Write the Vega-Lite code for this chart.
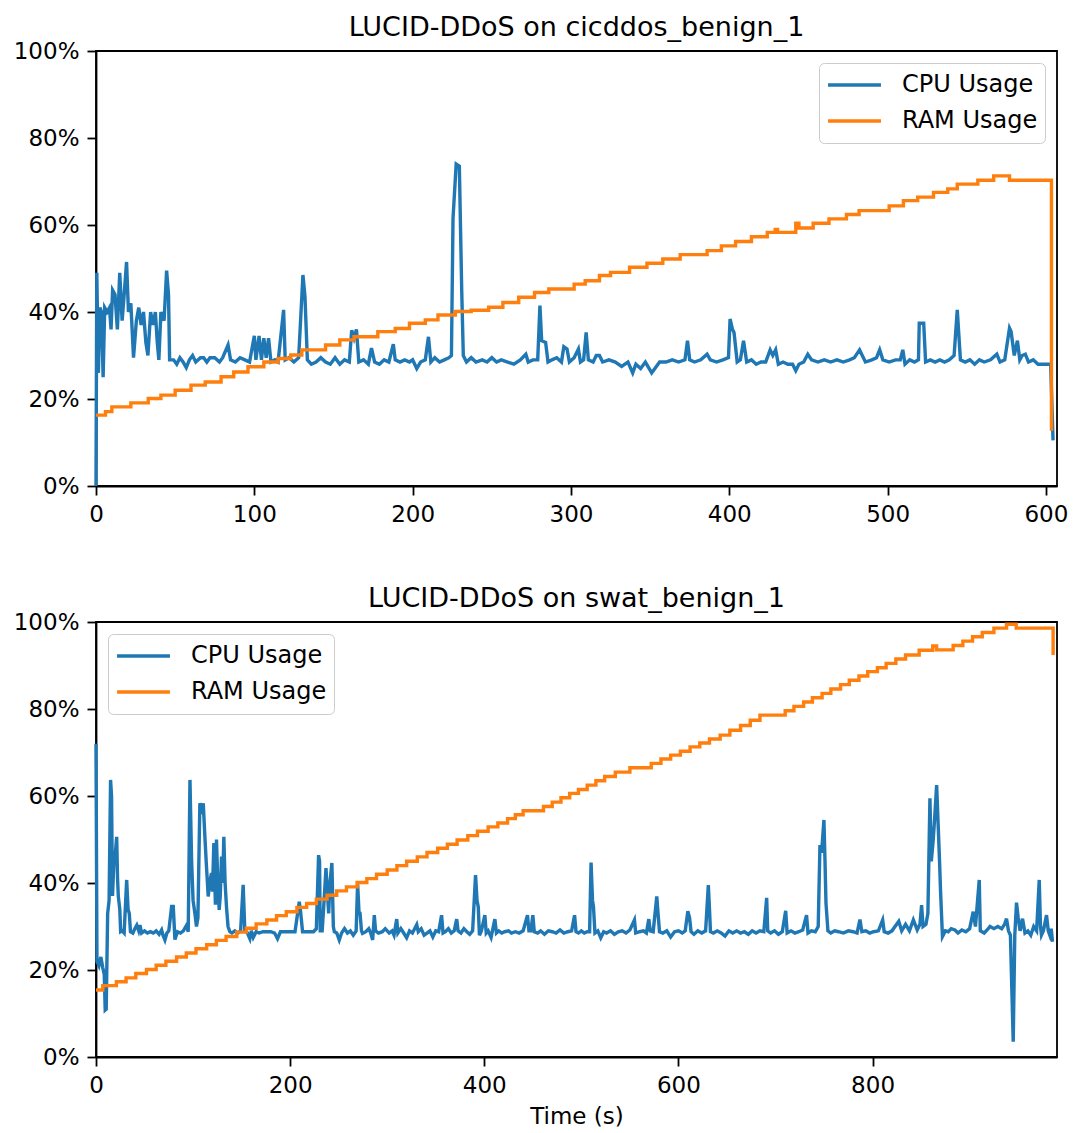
{
"$schema":"https://vega.github.io/schema/vega-lite/v6.json",
"padding":{"left":12,"top":13,"right":5,"bottom":3},
"config":{
"font":"DejaVu Sans",
"view":{"stroke":"black","strokeWidth":1.8},
"axis":{"grid":false,"domainColor":"black","domainWidth":1.8,"tickColor":"black","tickWidth":1.8,"tickSize":9,"labelPadding":8,"labelFontSize":23,"labelColor":"black","labelFont":"DejaVu Sans","titleFont":"DejaVu Sans","titleFontSize":23,"titleFontWeight":"normal","titleColor":"black","labelFlush":false,"labelOverlap":false},
"title":{"font":"DejaVu Sans","fontSize":27,"fontWeight":"normal","color":"black","offset":-2},
"legend":{"offset":12,"symbolType":"stroke","symbolSize":2800,"symbolStrokeWidth":3.4,"clipHeight":30,"rowPadding":6,"labelFontSize":24,"labelColor":"black","labelFont":"DejaVu Sans","labelOffset":19,"padding":7,"fillColor":"rgba(255,255,255,0.85)","strokeColor":"#cccccc","cornerRadius":5}
},
"datasets":{
"top":[
{"s":"CPU Usage","t":0,"v":0},{"s":"CPU Usage","t":0.5,"v":49},{"s":"CPU Usage","t":1.5,"v":26},{"s":"CPU Usage","t":2.5,"v":41},{"s":"CPU Usage","t":3.5,"v":40},{"s":"CPU Usage","t":4.5,"v":25},{"s":"CPU Usage","t":5.5,"v":41},{"s":"CPU Usage","t":7,"v":40},{"s":"CPU Usage","t":8.5,"v":41},{"s":"CPU Usage","t":9.5,"v":36},{"s":"CPU Usage","t":10.5,"v":45},{"s":"CPU Usage","t":12,"v":44},{"s":"CPU Usage","t":13.5,"v":36},{"s":"CPU Usage","t":15,"v":49},{"s":"CPU Usage","t":16.5,"v":38},{"s":"CPU Usage","t":18,"v":45},{"s":"CPU Usage","t":19.3,"v":51.5},{"s":"CPU Usage","t":20.5,"v":40},{"s":"CPU Usage","t":22,"v":42},{"s":"CPU Usage","t":23.7,"v":29.5},{"s":"CPU Usage","t":25.5,"v":38},{"s":"CPU Usage","t":27,"v":41},{"s":"CPU Usage","t":28.5,"v":37},{"s":"CPU Usage","t":30,"v":40},{"s":"CPU Usage","t":31.5,"v":33},{"s":"CPU Usage","t":32.8,"v":30},{"s":"CPU Usage","t":34.5,"v":40},{"s":"CPU Usage","t":36,"v":37},{"s":"CPU Usage","t":37.5,"v":40},{"s":"CPU Usage","t":38.7,"v":33},{"s":"CPU Usage","t":39.7,"v":29},{"s":"CPU Usage","t":41,"v":40},{"s":"CPU Usage","t":43,"v":38},{"s":"CPU Usage","t":44.6,"v":49.5},{"s":"CPU Usage","t":45.8,"v":44},{"s":"CPU Usage","t":46.5,"v":29},{"s":"CPU Usage","t":49,"v":29},{"s":"CPU Usage","t":51,"v":28},{"s":"CPU Usage","t":53,"v":29.5},{"s":"CPU Usage","t":55,"v":28.5},{"s":"CPU Usage","t":57,"v":27.2},{"s":"CPU Usage","t":59,"v":29},{"s":"CPU Usage","t":61,"v":30},{"s":"CPU Usage","t":63,"v":28.5},{"s":"CPU Usage","t":66,"v":29.5},{"s":"CPU Usage","t":68,"v":29.5},{"s":"CPU Usage","t":70,"v":28.5},{"s":"CPU Usage","t":72,"v":29.5},{"s":"CPU Usage","t":75,"v":29.5},{"s":"CPU Usage","t":78,"v":28.5},{"s":"CPU Usage","t":80,"v":29.5},{"s":"CPU Usage","t":83.4,"v":32.4},{"s":"CPU Usage","t":85,"v":29},{"s":"CPU Usage","t":88,"v":28.5},{"s":"CPU Usage","t":91,"v":29.5},{"s":"CPU Usage","t":94,"v":29},{"s":"CPU Usage","t":97,"v":28.5},{"s":"CPU Usage","t":100,"v":34.5},{"s":"CPU Usage","t":101,"v":29},{"s":"CPU Usage","t":103,"v":34.5},{"s":"CPU Usage","t":104.5,"v":29},{"s":"CPU Usage","t":106,"v":34},{"s":"CPU Usage","t":107.5,"v":29.5},{"s":"CPU Usage","t":109,"v":34},{"s":"CPU Usage","t":110.5,"v":28.5},{"s":"CPU Usage","t":113,"v":29},{"s":"CPU Usage","t":115,"v":28.5},{"s":"CPU Usage","t":118.5,"v":40.5},{"s":"CPU Usage","t":119.5,"v":29},{"s":"CPU Usage","t":122,"v":29.5},{"s":"CPU Usage","t":125,"v":28.5},{"s":"CPU Usage","t":128,"v":29.5},{"s":"CPU Usage","t":129.5,"v":40},{"s":"CPU Usage","t":130.7,"v":48.5},{"s":"CPU Usage","t":132,"v":43.5},{"s":"CPU Usage","t":133.5,"v":29},{"s":"CPU Usage","t":136,"v":28},{"s":"CPU Usage","t":139,"v":28.5},{"s":"CPU Usage","t":142,"v":29.5},{"s":"CPU Usage","t":145,"v":28.5},{"s":"CPU Usage","t":148,"v":28},{"s":"CPU Usage","t":151,"v":29.5},{"s":"CPU Usage","t":154,"v":28},{"s":"CPU Usage","t":157,"v":29},{"s":"CPU Usage","t":160,"v":28.5},{"s":"CPU Usage","t":161.5,"v":35.8},{"s":"CPU Usage","t":163,"v":34},{"s":"CPU Usage","t":164.5,"v":36},{"s":"CPU Usage","t":166,"v":28.5},{"s":"CPU Usage","t":169,"v":29},{"s":"CPU Usage","t":172,"v":28},{"s":"CPU Usage","t":174,"v":31.7},{"s":"CPU Usage","t":176,"v":28.5},{"s":"CPU Usage","t":179,"v":28},{"s":"CPU Usage","t":182,"v":29},{"s":"CPU Usage","t":185,"v":28.5},{"s":"CPU Usage","t":187.8,"v":32.6},{"s":"CPU Usage","t":189,"v":29},{"s":"CPU Usage","t":192,"v":28.5},{"s":"CPU Usage","t":195,"v":29},{"s":"CPU Usage","t":198,"v":28.5},{"s":"CPU Usage","t":200,"v":29},{"s":"CPU Usage","t":202.6,"v":27},{"s":"CPU Usage","t":205,"v":28.5},{"s":"CPU Usage","t":208,"v":29},{"s":"CPU Usage","t":210,"v":34.3},{"s":"CPU Usage","t":211.5,"v":28.5},{"s":"CPU Usage","t":214,"v":29.5},{"s":"CPU Usage","t":217,"v":28.5},{"s":"CPU Usage","t":220,"v":29},{"s":"CPU Usage","t":223,"v":29.5},{"s":"CPU Usage","t":224.5,"v":30},{"s":"CPU Usage","t":225.5,"v":61.5},{"s":"CPU Usage","t":227.5,"v":74},{"s":"CPU Usage","t":229.5,"v":73.5},{"s":"CPU Usage","t":231,"v":45},{"s":"CPU Usage","t":232,"v":30},{"s":"CPU Usage","t":234,"v":28.5},{"s":"CPU Usage","t":237,"v":29.5},{"s":"CPU Usage","t":240,"v":28.5},{"s":"CPU Usage","t":244,"v":29},{"s":"CPU Usage","t":247,"v":28.5},{"s":"CPU Usage","t":250,"v":29.5},{"s":"CPU Usage","t":253,"v":28.5},{"s":"CPU Usage","t":256,"v":29},{"s":"CPU Usage","t":260,"v":28.5},{"s":"CPU Usage","t":264,"v":28},{"s":"CPU Usage","t":268,"v":29},{"s":"CPU Usage","t":271.5,"v":30.3},{"s":"CPU Usage","t":273,"v":28.5},{"s":"CPU Usage","t":276,"v":29},{"s":"CPU Usage","t":279,"v":29},{"s":"CPU Usage","t":280.4,"v":41.5},{"s":"CPU Usage","t":281.5,"v":33.4},{"s":"CPU Usage","t":284,"v":33},{"s":"CPU Usage","t":285.5,"v":28.5},{"s":"CPU Usage","t":288,"v":29},{"s":"CPU Usage","t":291,"v":29.5},{"s":"CPU Usage","t":294,"v":28.5},{"s":"CPU Usage","t":295.5,"v":32},{"s":"CPU Usage","t":297.5,"v":31.5},{"s":"CPU Usage","t":299,"v":28.5},{"s":"CPU Usage","t":302,"v":29.5},{"s":"CPU Usage","t":304.7,"v":31.5},{"s":"CPU Usage","t":306,"v":28.5},{"s":"CPU Usage","t":308,"v":29},{"s":"CPU Usage","t":309.6,"v":35.3},{"s":"CPU Usage","t":311,"v":29},{"s":"CPU Usage","t":314,"v":28.5},{"s":"CPU Usage","t":316,"v":30},{"s":"CPU Usage","t":318,"v":30},{"s":"CPU Usage","t":320,"v":28.5},{"s":"CPU Usage","t":324,"v":29},{"s":"CPU Usage","t":328,"v":28.5},{"s":"CPU Usage","t":332,"v":27.5},{"s":"CPU Usage","t":336,"v":28.5},{"s":"CPU Usage","t":339,"v":26},{"s":"CPU Usage","t":341,"v":28},{"s":"CPU Usage","t":344,"v":27},{"s":"CPU Usage","t":347,"v":28.5},{"s":"CPU Usage","t":351,"v":26},{"s":"CPU Usage","t":353,"v":27},{"s":"CPU Usage","t":356,"v":28.5},{"s":"CPU Usage","t":360,"v":28.5},{"s":"CPU Usage","t":364,"v":29},{"s":"CPU Usage","t":368,"v":28.5},{"s":"CPU Usage","t":372,"v":29},{"s":"CPU Usage","t":373.6,"v":33.4},{"s":"CPU Usage","t":375,"v":29},{"s":"CPU Usage","t":378,"v":28.5},{"s":"CPU Usage","t":382,"v":29},{"s":"CPU Usage","t":386,"v":30.3},{"s":"CPU Usage","t":388,"v":29},{"s":"CPU Usage","t":392,"v":28.5},{"s":"CPU Usage","t":396,"v":29},{"s":"CPU Usage","t":399.5,"v":29.5},{"s":"CPU Usage","t":400.5,"v":38.4},{"s":"CPU Usage","t":402,"v":36},{"s":"CPU Usage","t":403,"v":35.3},{"s":"CPU Usage","t":405,"v":28.5},{"s":"CPU Usage","t":407,"v":29},{"s":"CPU Usage","t":409,"v":33.4},{"s":"CPU Usage","t":411,"v":28.5},{"s":"CPU Usage","t":414,"v":29},{"s":"CPU Usage","t":417,"v":28},{"s":"CPU Usage","t":420,"v":28.5},{"s":"CPU Usage","t":423,"v":28.5},{"s":"CPU Usage","t":425.8,"v":31.3},{"s":"CPU Usage","t":427.5,"v":30},{"s":"CPU Usage","t":429.3,"v":31.3},{"s":"CPU Usage","t":431,"v":28},{"s":"CPU Usage","t":434,"v":28.5},{"s":"CPU Usage","t":437,"v":28},{"s":"CPU Usage","t":440,"v":28},{"s":"CPU Usage","t":442,"v":26.5},{"s":"CPU Usage","t":444,"v":28},{"s":"CPU Usage","t":447,"v":28.5},{"s":"CPU Usage","t":449.6,"v":30.3},{"s":"CPU Usage","t":452,"v":29},{"s":"CPU Usage","t":456,"v":28.5},{"s":"CPU Usage","t":460,"v":29},{"s":"CPU Usage","t":464,"v":28.5},{"s":"CPU Usage","t":468,"v":29},{"s":"CPU Usage","t":472,"v":28.5},{"s":"CPU Usage","t":476,"v":29},{"s":"CPU Usage","t":479,"v":29.5},{"s":"CPU Usage","t":482.3,"v":31.3},{"s":"CPU Usage","t":484,"v":30},{"s":"CPU Usage","t":486,"v":28.5},{"s":"CPU Usage","t":490,"v":29},{"s":"CPU Usage","t":493,"v":29.5},{"s":"CPU Usage","t":495,"v":31.3},{"s":"CPU Usage","t":497,"v":29},{"s":"CPU Usage","t":501,"v":28.5},{"s":"CPU Usage","t":505,"v":29},{"s":"CPU Usage","t":508,"v":29},{"s":"CPU Usage","t":509.6,"v":31.3},{"s":"CPU Usage","t":511,"v":28},{"s":"CPU Usage","t":514,"v":29},{"s":"CPU Usage","t":517,"v":28.5},{"s":"CPU Usage","t":519.5,"v":29},{"s":"CPU Usage","t":520,"v":37.4},{"s":"CPU Usage","t":522.8,"v":37.4},{"s":"CPU Usage","t":524,"v":28.5},{"s":"CPU Usage","t":527,"v":29},{"s":"CPU Usage","t":530,"v":28.5},{"s":"CPU Usage","t":533,"v":29},{"s":"CPU Usage","t":536,"v":28.5},{"s":"CPU Usage","t":539,"v":29},{"s":"CPU Usage","t":542,"v":30},{"s":"CPU Usage","t":544,"v":40.5},{"s":"CPU Usage","t":546,"v":29},{"s":"CPU Usage","t":549,"v":28.5},{"s":"CPU Usage","t":552,"v":29},{"s":"CPU Usage","t":555,"v":28},{"s":"CPU Usage","t":558,"v":29},{"s":"CPU Usage","t":561,"v":28.5},{"s":"CPU Usage","t":565,"v":29},{"s":"CPU Usage","t":569,"v":30.3},{"s":"CPU Usage","t":571,"v":28.5},{"s":"CPU Usage","t":574,"v":29},{"s":"CPU Usage","t":577,"v":36.3},{"s":"CPU Usage","t":578,"v":35.5},{"s":"CPU Usage","t":580,"v":30},{"s":"CPU Usage","t":582,"v":33.4},{"s":"CPU Usage","t":583.5,"v":29},{"s":"CPU Usage","t":585,"v":30},{"s":"CPU Usage","t":587,"v":30.3},{"s":"CPU Usage","t":589,"v":28.5},{"s":"CPU Usage","t":592,"v":29},{"s":"CPU Usage","t":595,"v":28},{"s":"CPU Usage","t":598,"v":28},{"s":"CPU Usage","t":601,"v":28},{"s":"CPU Usage","t":603,"v":28},{"s":"CPU Usage","t":604.5,"v":10.5},
{"s":"RAM Usage","t":0,"v":16.3},{"s":"RAM Usage","t":6,"v":17.1},{"s":"RAM Usage","t":10,"v":18.2},{"s":"RAM Usage","t":22,"v":19.1},{"s":"RAM Usage","t":33,"v":20.1},{"s":"RAM Usage","t":41,"v":20.9},{"s":"RAM Usage","t":50,"v":22.0},{"s":"RAM Usage","t":60,"v":23.2},{"s":"RAM Usage","t":69,"v":23.9},{"s":"RAM Usage","t":79,"v":25.1},{"s":"RAM Usage","t":87,"v":26.2},{"s":"RAM Usage","t":96,"v":27.4},{"s":"RAM Usage","t":106,"v":28.5},{"s":"RAM Usage","t":115,"v":29.3},{"s":"RAM Usage","t":123,"v":30.1},{"s":"RAM Usage","t":130,"v":31.3},{"s":"RAM Usage","t":145,"v":32.4},{"s":"RAM Usage","t":154,"v":33.6},{"s":"RAM Usage","t":163,"v":34.3},{"s":"RAM Usage","t":178,"v":35.5},{"s":"RAM Usage","t":189,"v":36.2},{"s":"RAM Usage","t":198,"v":37.4},{"s":"RAM Usage","t":208,"v":38.2},{"s":"RAM Usage","t":216,"v":39.3},{"s":"RAM Usage","t":227,"v":40.1},{"s":"RAM Usage","t":237,"v":40.4},{"s":"RAM Usage","t":248,"v":41.1},{"s":"RAM Usage","t":257,"v":42.2},{"s":"RAM Usage","t":267,"v":43.4},{"s":"RAM Usage","t":277,"v":44.5},{"s":"RAM Usage","t":286,"v":45.3},{"s":"RAM Usage","t":302,"v":46.4},{"s":"RAM Usage","t":309,"v":47.2},{"s":"RAM Usage","t":318,"v":48.4},{"s":"RAM Usage","t":325,"v":49.1},{"s":"RAM Usage","t":337,"v":50.3},{"s":"RAM Usage","t":348,"v":51.2},{"s":"RAM Usage","t":358,"v":52.2},{"s":"RAM Usage","t":369,"v":53.2},{"s":"RAM Usage","t":386,"v":54.1},{"s":"RAM Usage","t":395,"v":55.2},{"s":"RAM Usage","t":404,"v":56.2},{"s":"RAM Usage","t":414,"v":57.3},{"s":"RAM Usage","t":424,"v":58.3},{"s":"RAM Usage","t":429,"v":59.0},{"s":"RAM Usage","t":430.5,"v":58.3},{"s":"RAM Usage","t":442,"v":60.4},{"s":"RAM Usage","t":444,"v":59.3},{"s":"RAM Usage","t":453,"v":60.4},{"s":"RAM Usage","t":463,"v":61.4},{"s":"RAM Usage","t":474,"v":62.4},{"s":"RAM Usage","t":482,"v":63.3},{"s":"RAM Usage","t":501,"v":64.4},{"s":"RAM Usage","t":510,"v":65.6},{"s":"RAM Usage","t":519,"v":66.4},{"s":"RAM Usage","t":529,"v":67.5},{"s":"RAM Usage","t":538,"v":68.3},{"s":"RAM Usage","t":544,"v":69.4},{"s":"RAM Usage","t":557,"v":70.3},{"s":"RAM Usage","t":567,"v":71.3},{"s":"RAM Usage","t":577,"v":70.3},{"s":"RAM Usage","t":600,"v":70.3},{"s":"RAM Usage","t":603.5,"v":12.7}
],
"bot":[
{"s":"CPU Usage","t":0,"v":72},{"s":"CPU Usage","t":1,"v":22},{"s":"CPU Usage","t":3,"v":21},{"s":"CPU Usage","t":5,"v":23},{"s":"CPU Usage","t":7,"v":20.5},{"s":"CPU Usage","t":8.5,"v":19},{"s":"CPU Usage","t":9.5,"v":10.8},{"s":"CPU Usage","t":10.5,"v":11},{"s":"CPU Usage","t":12,"v":33},{"s":"CPU Usage","t":13.5,"v":36},{"s":"CPU Usage","t":15,"v":63.7},{"s":"CPU Usage","t":16,"v":60},{"s":"CPU Usage","t":17,"v":37},{"s":"CPU Usage","t":18.5,"v":45},{"s":"CPU Usage","t":20,"v":47},{"s":"CPU Usage","t":21.3,"v":50.6},{"s":"CPU Usage","t":22.2,"v":41},{"s":"CPU Usage","t":23,"v":36.9},{"s":"CPU Usage","t":24.5,"v":34},{"s":"CPU Usage","t":25.4,"v":28.8},{"s":"CPU Usage","t":27,"v":29},{"s":"CPU Usage","t":29,"v":28.5},{"s":"CPU Usage","t":31.6,"v":40.7},{"s":"CPU Usage","t":33,"v":34},{"s":"CPU Usage","t":34.3,"v":33},{"s":"CPU Usage","t":35.5,"v":28.8},{"s":"CPU Usage","t":38,"v":28.5},{"s":"CPU Usage","t":40,"v":29.5},{"s":"CPU Usage","t":42,"v":30.3},{"s":"CPU Usage","t":44,"v":29},{"s":"CPU Usage","t":45.3,"v":30.3},{"s":"CPU Usage","t":47,"v":28.5},{"s":"CPU Usage","t":50,"v":29},{"s":"CPU Usage","t":53,"v":28.5},{"s":"CPU Usage","t":56,"v":28.8},{"s":"CPU Usage","t":59,"v":28.5},{"s":"CPU Usage","t":62,"v":29},{"s":"CPU Usage","t":65,"v":28.2},{"s":"CPU Usage","t":67.6,"v":29.2},{"s":"CPU Usage","t":69,"v":28},{"s":"CPU Usage","t":71,"v":26.9},{"s":"CPU Usage","t":73,"v":28.5},{"s":"CPU Usage","t":75,"v":29},{"s":"CPU Usage","t":77.9,"v":34.6},{"s":"CPU Usage","t":79.6,"v":34.6},{"s":"CPU Usage","t":81.3,"v":27},{"s":"CPU Usage","t":84,"v":28.8},{"s":"CPU Usage","t":87,"v":28.5},{"s":"CPU Usage","t":90,"v":29},{"s":"CPU Usage","t":93.3,"v":30.3},{"s":"CPU Usage","t":95,"v":28.8},{"s":"CPU Usage","t":96.8,"v":63.7},{"s":"CPU Usage","t":98.5,"v":45},{"s":"CPU Usage","t":100,"v":36},{"s":"CPU Usage","t":101.9,"v":33},{"s":"CPU Usage","t":103.5,"v":30},{"s":"CPU Usage","t":105,"v":32},{"s":"CPU Usage","t":107,"v":58.3},{"s":"CPU Usage","t":109,"v":57},{"s":"CPU Usage","t":110.5,"v":58.3},{"s":"CPU Usage","t":112,"v":51.4},{"s":"CPU Usage","t":113.5,"v":45},{"s":"CPU Usage","t":115.6,"v":36.9},{"s":"CPU Usage","t":117,"v":40},{"s":"CPU Usage","t":119,"v":42.3},{"s":"CPU Usage","t":120,"v":38},{"s":"CPU Usage","t":121.4,"v":49.2},{"s":"CPU Usage","t":123,"v":35},{"s":"CPU Usage","t":124.1,"v":50},{"s":"CPU Usage","t":125.5,"v":40},{"s":"CPU Usage","t":126.9,"v":33.8},{"s":"CPU Usage","t":128,"v":37},{"s":"CPU Usage","t":129.3,"v":46.1},{"s":"CPU Usage","t":130.5,"v":40},{"s":"CPU Usage","t":131.7,"v":50.6},{"s":"CPU Usage","t":133,"v":40},{"s":"CPU Usage","t":134.4,"v":34.6},{"s":"CPU Usage","t":136,"v":30},{"s":"CPU Usage","t":137.9,"v":28.8},{"s":"CPU Usage","t":140,"v":28.5},{"s":"CPU Usage","t":143,"v":29},{"s":"CPU Usage","t":146,"v":28.5},{"s":"CPU Usage","t":149,"v":29},{"s":"CPU Usage","t":151.6,"v":39.6},{"s":"CPU Usage","t":153.3,"v":29.2},{"s":"CPU Usage","t":156,"v":28.5},{"s":"CPU Usage","t":158.5,"v":27.2},{"s":"CPU Usage","t":160,"v":29},{"s":"CPU Usage","t":162,"v":27.5},{"s":"CPU Usage","t":165,"v":28.8},{"s":"CPU Usage","t":168,"v":28.5},{"s":"CPU Usage","t":172,"v":28.8},{"s":"CPU Usage","t":176,"v":28.8},{"s":"CPU Usage","t":180,"v":28.8},{"s":"CPU Usage","t":184,"v":28.5},{"s":"CPU Usage","t":187,"v":27.2},{"s":"CPU Usage","t":190,"v":28.8},{"s":"CPU Usage","t":195,"v":28.8},{"s":"CPU Usage","t":200,"v":28.8},{"s":"CPU Usage","t":205,"v":28.8},{"s":"CPU Usage","t":209.4,"v":35.7},{"s":"CPU Usage","t":210.5,"v":34},{"s":"CPU Usage","t":212.8,"v":28.8},{"s":"CPU Usage","t":216,"v":28.8},{"s":"CPU Usage","t":220,"v":28.8},{"s":"CPU Usage","t":224,"v":28.8},{"s":"CPU Usage","t":227,"v":29.5},{"s":"CPU Usage","t":229.3,"v":46.4},{"s":"CPU Usage","t":230.3,"v":45},{"s":"CPU Usage","t":231,"v":29},{"s":"CPU Usage","t":233,"v":29},{"s":"CPU Usage","t":235,"v":36},{"s":"CPU Usage","t":236.9,"v":43.4},{"s":"CPU Usage","t":238.3,"v":38},{"s":"CPU Usage","t":239.7,"v":33},{"s":"CPU Usage","t":241,"v":40},{"s":"CPU Usage","t":243,"v":44.6},{"s":"CPU Usage","t":244.5,"v":30},{"s":"CPU Usage","t":245.5,"v":28.8},{"s":"CPU Usage","t":248,"v":28.5},{"s":"CPU Usage","t":250.6,"v":26.9},{"s":"CPU Usage","t":253,"v":28.5},{"s":"CPU Usage","t":256,"v":29.5},{"s":"CPU Usage","t":259,"v":28.5},{"s":"CPU Usage","t":262,"v":29},{"s":"CPU Usage","t":265,"v":28},{"s":"CPU Usage","t":268,"v":29},{"s":"CPU Usage","t":269.5,"v":39.9},{"s":"CPU Usage","t":271,"v":33},{"s":"CPU Usage","t":272,"v":33},{"s":"CPU Usage","t":273.5,"v":29},{"s":"CPU Usage","t":274.6,"v":28.4},{"s":"CPU Usage","t":278,"v":28.8},{"s":"CPU Usage","t":281,"v":29.5},{"s":"CPU Usage","t":283,"v":28.5},{"s":"CPU Usage","t":285,"v":26.9},{"s":"CPU Usage","t":286.7,"v":32.6},{"s":"CPU Usage","t":288,"v":29},{"s":"CPU Usage","t":291,"v":28.5},{"s":"CPU Usage","t":295,"v":28.8},{"s":"CPU Usage","t":298,"v":29.5},{"s":"CPU Usage","t":302,"v":28.5},{"s":"CPU Usage","t":305,"v":29},{"s":"CPU Usage","t":307,"v":28},{"s":"CPU Usage","t":309.8,"v":31.7},{"s":"CPU Usage","t":311,"v":28.5},{"s":"CPU Usage","t":314,"v":29.5},{"s":"CPU Usage","t":317,"v":28.5},{"s":"CPU Usage","t":320,"v":27.4},{"s":"CPU Usage","t":323,"v":29},{"s":"CPU Usage","t":326,"v":28.5},{"s":"CPU Usage","t":330.4,"v":30.4},{"s":"CPU Usage","t":332,"v":28.8},{"s":"CPU Usage","t":335,"v":29.5},{"s":"CPU Usage","t":338,"v":28},{"s":"CPU Usage","t":341,"v":28.5},{"s":"CPU Usage","t":344,"v":29},{"s":"CPU Usage","t":347,"v":27.6},{"s":"CPU Usage","t":350,"v":29},{"s":"CPU Usage","t":353,"v":28.8},{"s":"CPU Usage","t":356,"v":32.6},{"s":"CPU Usage","t":357.5,"v":28.5},{"s":"CPU Usage","t":360,"v":28.8},{"s":"CPU Usage","t":363,"v":29.5},{"s":"CPU Usage","t":366,"v":28.5},{"s":"CPU Usage","t":369,"v":29},{"s":"CPU Usage","t":371.6,"v":31.7},{"s":"CPU Usage","t":373,"v":29},{"s":"CPU Usage","t":376,"v":28.5},{"s":"CPU Usage","t":379,"v":29.5},{"s":"CPU Usage","t":382,"v":28.8},{"s":"CPU Usage","t":385,"v":28.2},{"s":"CPU Usage","t":388,"v":29},{"s":"CPU Usage","t":391,"v":41.8},{"s":"CPU Usage","t":392.5,"v":36},{"s":"CPU Usage","t":393.8,"v":34.5},{"s":"CPU Usage","t":395,"v":28},{"s":"CPU Usage","t":397,"v":29},{"s":"CPU Usage","t":400.6,"v":32.6},{"s":"CPU Usage","t":402,"v":28.5},{"s":"CPU Usage","t":404,"v":29},{"s":"CPU Usage","t":407,"v":27.5},{"s":"CPU Usage","t":410.9,"v":31.7},{"s":"CPU Usage","t":412.5,"v":28.5},{"s":"CPU Usage","t":415,"v":29},{"s":"CPU Usage","t":418,"v":28.5},{"s":"CPU Usage","t":421,"v":28.8},{"s":"CPU Usage","t":425,"v":29},{"s":"CPU Usage","t":428,"v":28.5},{"s":"CPU Usage","t":432,"v":28.8},{"s":"CPU Usage","t":436,"v":28.5},{"s":"CPU Usage","t":440,"v":29},{"s":"CPU Usage","t":444.5,"v":32.6},{"s":"CPU Usage","t":446,"v":29},{"s":"CPU Usage","t":448,"v":29},{"s":"CPU Usage","t":450,"v":32.6},{"s":"CPU Usage","t":451.5,"v":28.8},{"s":"CPU Usage","t":455,"v":28.5},{"s":"CPU Usage","t":458,"v":29},{"s":"CPU Usage","t":462,"v":28.2},{"s":"CPU Usage","t":466,"v":29},{"s":"CPU Usage","t":470,"v":28.8},{"s":"CPU Usage","t":474,"v":28.5},{"s":"CPU Usage","t":478,"v":29.2},{"s":"CPU Usage","t":482,"v":28.5},{"s":"CPU Usage","t":486,"v":28.8},{"s":"CPU Usage","t":490,"v":29},{"s":"CPU Usage","t":493,"v":32.6},{"s":"CPU Usage","t":494.5,"v":28.8},{"s":"CPU Usage","t":497,"v":28.5},{"s":"CPU Usage","t":500,"v":29},{"s":"CPU Usage","t":503,"v":28.5},{"s":"CPU Usage","t":506,"v":28.8},{"s":"CPU Usage","t":508.5,"v":28.8},{"s":"CPU Usage","t":510,"v":44.7},{"s":"CPU Usage","t":511.5,"v":36},{"s":"CPU Usage","t":512.5,"v":34.5},{"s":"CPU Usage","t":514,"v":28.5},{"s":"CPU Usage","t":517,"v":29},{"s":"CPU Usage","t":520,"v":27.4},{"s":"CPU Usage","t":523,"v":28.8},{"s":"CPU Usage","t":526,"v":28.5},{"s":"CPU Usage","t":530,"v":29},{"s":"CPU Usage","t":534,"v":28.2},{"s":"CPU Usage","t":538,"v":28.8},{"s":"CPU Usage","t":542,"v":29},{"s":"CPU Usage","t":546,"v":28.5},{"s":"CPU Usage","t":550,"v":29.2},{"s":"CPU Usage","t":554.7,"v":31.5},{"s":"CPU Usage","t":556,"v":28.5},{"s":"CPU Usage","t":560,"v":28.8},{"s":"CPU Usage","t":564,"v":29},{"s":"CPU Usage","t":567,"v":28.5},{"s":"CPU Usage","t":569.5,"v":31.7},{"s":"CPU Usage","t":571,"v":29},{"s":"CPU Usage","t":574,"v":28.8},{"s":"CPU Usage","t":577.7,"v":36.9},{"s":"CPU Usage","t":579,"v":33},{"s":"CPU Usage","t":580.5,"v":28.8},{"s":"CPU Usage","t":584,"v":28.5},{"s":"CPU Usage","t":588,"v":29},{"s":"CPU Usage","t":592,"v":27.6},{"s":"CPU Usage","t":596,"v":28.8},{"s":"CPU Usage","t":600,"v":29},{"s":"CPU Usage","t":604,"v":28.5},{"s":"CPU Usage","t":607,"v":29},{"s":"CPU Usage","t":609.7,"v":33.5},{"s":"CPU Usage","t":611.5,"v":32},{"s":"CPU Usage","t":613,"v":28.8},{"s":"CPU Usage","t":616,"v":28.2},{"s":"CPU Usage","t":620,"v":29},{"s":"CPU Usage","t":624,"v":28.5},{"s":"CPU Usage","t":628,"v":29},{"s":"CPU Usage","t":630.8,"v":39.5},{"s":"CPU Usage","t":632,"v":34},{"s":"CPU Usage","t":633,"v":28.8},{"s":"CPU Usage","t":636,"v":28.5},{"s":"CPU Usage","t":640,"v":29},{"s":"CPU Usage","t":644,"v":28.5},{"s":"CPU Usage","t":648,"v":27.8},{"s":"CPU Usage","t":652,"v":29},{"s":"CPU Usage","t":656,"v":28.5},{"s":"CPU Usage","t":660,"v":29},{"s":"CPU Usage","t":664,"v":28.5},{"s":"CPU Usage","t":668,"v":28.8},{"s":"CPU Usage","t":672,"v":28.2},{"s":"CPU Usage","t":676,"v":29},{"s":"CPU Usage","t":680,"v":28.5},{"s":"CPU Usage","t":684,"v":29},{"s":"CPU Usage","t":688,"v":28.8},{"s":"CPU Usage","t":690.9,"v":36.6},{"s":"CPU Usage","t":692,"v":29},{"s":"CPU Usage","t":695,"v":28.5},{"s":"CPU Usage","t":699,"v":29},{"s":"CPU Usage","t":703,"v":28.2},{"s":"CPU Usage","t":707,"v":28.8},{"s":"CPU Usage","t":710.5,"v":33.6},{"s":"CPU Usage","t":712,"v":28.5},{"s":"CPU Usage","t":716,"v":29},{"s":"CPU Usage","t":720,"v":28.5},{"s":"CPU Usage","t":724,"v":28.8},{"s":"CPU Usage","t":728,"v":29.2},{"s":"CPU Usage","t":732,"v":32.6},{"s":"CPU Usage","t":733.5,"v":28.5},{"s":"CPU Usage","t":737,"v":29},{"s":"CPU Usage","t":741,"v":28.8},{"s":"CPU Usage","t":744,"v":30},{"s":"CPU Usage","t":745.8,"v":48.7},{"s":"CPU Usage","t":747.5,"v":47},{"s":"CPU Usage","t":749.9,"v":54.5},{"s":"CPU Usage","t":751,"v":45},{"s":"CPU Usage","t":752,"v":35.4},{"s":"CPU Usage","t":754,"v":29},{"s":"CPU Usage","t":757,"v":28.5},{"s":"CPU Usage","t":761,"v":29},{"s":"CPU Usage","t":765,"v":28.8},{"s":"CPU Usage","t":770,"v":28.5},{"s":"CPU Usage","t":775,"v":29},{"s":"CPU Usage","t":780,"v":28.8},{"s":"CPU Usage","t":784,"v":28.5},{"s":"CPU Usage","t":787,"v":31.6},{"s":"CPU Usage","t":789,"v":28.8},{"s":"CPU Usage","t":793,"v":29},{"s":"CPU Usage","t":797,"v":28.5},{"s":"CPU Usage","t":801,"v":28.8},{"s":"CPU Usage","t":806,"v":29},{"s":"CPU Usage","t":810.4,"v":31.5},{"s":"CPU Usage","t":812,"v":28.8},{"s":"CPU Usage","t":816,"v":28.5},{"s":"CPU Usage","t":820,"v":29},{"s":"CPU Usage","t":824.8,"v":30.5},{"s":"CPU Usage","t":827,"v":31.2},{"s":"CPU Usage","t":830,"v":29},{"s":"CPU Usage","t":834,"v":30.5},{"s":"CPU Usage","t":838,"v":29},{"s":"CPU Usage","t":842,"v":31.5},{"s":"CPU Usage","t":846,"v":29.2},{"s":"CPU Usage","t":848.8,"v":30.5},{"s":"CPU Usage","t":850.5,"v":34.9},{"s":"CPU Usage","t":852,"v":30},{"s":"CPU Usage","t":855,"v":30.5},{"s":"CPU Usage","t":857,"v":33},{"s":"CPU Usage","t":859.1,"v":59.5},{"s":"CPU Usage","t":860.5,"v":45},{"s":"CPU Usage","t":862.5,"v":50},{"s":"CPU Usage","t":864,"v":55},{"s":"CPU Usage","t":866,"v":62.5},{"s":"CPU Usage","t":867.7,"v":52.6},{"s":"CPU Usage","t":869,"v":45},{"s":"CPU Usage","t":870,"v":38.3},{"s":"CPU Usage","t":872,"v":27.7},{"s":"CPU Usage","t":875,"v":29},{"s":"CPU Usage","t":878,"v":28.8},{"s":"CPU Usage","t":881,"v":29.5},{"s":"CPU Usage","t":884.8,"v":29.2},{"s":"CPU Usage","t":888,"v":28.5},{"s":"CPU Usage","t":892,"v":29.2},{"s":"CPU Usage","t":896,"v":28.8},{"s":"CPU Usage","t":900,"v":29.5},{"s":"CPU Usage","t":903.7,"v":33.4},{"s":"CPU Usage","t":906,"v":30},{"s":"CPU Usage","t":909.9,"v":40.7},{"s":"CPU Usage","t":911,"v":29},{"s":"CPU Usage","t":915,"v":28.5},{"s":"CPU Usage","t":918,"v":29.2},{"s":"CPU Usage","t":921,"v":30},{"s":"CPU Usage","t":925,"v":29.5},{"s":"CPU Usage","t":929,"v":30},{"s":"CPU Usage","t":933,"v":29.5},{"s":"CPU Usage","t":936,"v":30.5},{"s":"CPU Usage","t":938,"v":31.8},{"s":"CPU Usage","t":940,"v":29},{"s":"CPU Usage","t":942,"v":28},{"s":"CPU Usage","t":944.9,"v":3.5},{"s":"CPU Usage","t":946.5,"v":28},{"s":"CPU Usage","t":948.3,"v":35.5},{"s":"CPU Usage","t":950,"v":32},{"s":"CPU Usage","t":952,"v":29},{"s":"CPU Usage","t":954.5,"v":31.8},{"s":"CPU Usage","t":957,"v":28.5},{"s":"CPU Usage","t":960,"v":29},{"s":"CPU Usage","t":963,"v":28},{"s":"CPU Usage","t":966,"v":30},{"s":"CPU Usage","t":969,"v":29},{"s":"CPU Usage","t":971.7,"v":40.7},{"s":"CPU Usage","t":973,"v":30},{"s":"CPU Usage","t":974,"v":28},{"s":"CPU Usage","t":976,"v":29},{"s":"CPU Usage","t":979.2,"v":32.6},{"s":"CPU Usage","t":981,"v":29},{"s":"CPU Usage","t":982.6,"v":28},{"s":"CPU Usage","t":984,"v":29.5},{"s":"CPU Usage","t":985.4,"v":26.5},
{"s":"RAM Usage","t":0,"v":15.4},{"s":"RAM Usage","t":7,"v":16.4},{"s":"RAM Usage","t":21,"v":17.3},{"s":"RAM Usage","t":31,"v":18.2},{"s":"RAM Usage","t":41,"v":19.2},{"s":"RAM Usage","t":52,"v":20.1},{"s":"RAM Usage","t":62,"v":21.1},{"s":"RAM Usage","t":72,"v":22.0},{"s":"RAM Usage","t":83,"v":23.0},{"s":"RAM Usage","t":93,"v":23.9},{"s":"RAM Usage","t":103,"v":24.9},{"s":"RAM Usage","t":114,"v":25.8},{"s":"RAM Usage","t":124,"v":26.8},{"s":"RAM Usage","t":134,"v":27.7},{"s":"RAM Usage","t":145,"v":28.7},{"s":"RAM Usage","t":155,"v":29.6},{"s":"RAM Usage","t":165,"v":30.6},{"s":"RAM Usage","t":176,"v":31.5},{"s":"RAM Usage","t":186,"v":32.5},{"s":"RAM Usage","t":196,"v":33.4},{"s":"RAM Usage","t":207,"v":34.4},{"s":"RAM Usage","t":217,"v":35.3},{"s":"RAM Usage","t":227,"v":36.3},{"s":"RAM Usage","t":238,"v":37.2},{"s":"RAM Usage","t":248,"v":38.2},{"s":"RAM Usage","t":258,"v":39.1},{"s":"RAM Usage","t":269,"v":40.1},{"s":"RAM Usage","t":279,"v":41.0},{"s":"RAM Usage","t":289,"v":42.0},{"s":"RAM Usage","t":300,"v":43.0},{"s":"RAM Usage","t":310,"v":44.0},{"s":"RAM Usage","t":320,"v":45.0},{"s":"RAM Usage","t":331,"v":46.0},{"s":"RAM Usage","t":341,"v":47.0},{"s":"RAM Usage","t":352,"v":48.0},{"s":"RAM Usage","t":362,"v":48.9},{"s":"RAM Usage","t":372,"v":49.9},{"s":"RAM Usage","t":383,"v":50.9},{"s":"RAM Usage","t":393,"v":51.9},{"s":"RAM Usage","t":404,"v":52.9},{"s":"RAM Usage","t":414,"v":53.8},{"s":"RAM Usage","t":424,"v":54.8},{"s":"RAM Usage","t":432,"v":55.7},{"s":"RAM Usage","t":440,"v":56.6},{"s":"RAM Usage","t":461,"v":57.6},{"s":"RAM Usage","t":470,"v":58.6},{"s":"RAM Usage","t":479,"v":59.6},{"s":"RAM Usage","t":488,"v":60.6},{"s":"RAM Usage","t":497,"v":61.5},{"s":"RAM Usage","t":506,"v":62.5},{"s":"RAM Usage","t":515,"v":63.5},{"s":"RAM Usage","t":524,"v":64.5},{"s":"RAM Usage","t":535,"v":65.5},{"s":"RAM Usage","t":550,"v":66.5},{"s":"RAM Usage","t":572,"v":67.5},{"s":"RAM Usage","t":582,"v":68.5},{"s":"RAM Usage","t":592,"v":69.4},{"s":"RAM Usage","t":602,"v":70.3},{"s":"RAM Usage","t":612,"v":71.3},{"s":"RAM Usage","t":622,"v":72.2},{"s":"RAM Usage","t":632,"v":73.1},{"s":"RAM Usage","t":643,"v":74.0},{"s":"RAM Usage","t":653,"v":75.1},{"s":"RAM Usage","t":664,"v":76.2},{"s":"RAM Usage","t":674,"v":77.4},{"s":"RAM Usage","t":684,"v":78.6},{"s":"RAM Usage","t":710,"v":79.6},{"s":"RAM Usage","t":719,"v":80.6},{"s":"RAM Usage","t":729,"v":81.6},{"s":"RAM Usage","t":738,"v":82.6},{"s":"RAM Usage","t":748,"v":83.6},{"s":"RAM Usage","t":757,"v":84.6},{"s":"RAM Usage","t":767,"v":85.6},{"s":"RAM Usage","t":776,"v":86.6},{"s":"RAM Usage","t":786,"v":87.6},{"s":"RAM Usage","t":795,"v":88.6},{"s":"RAM Usage","t":805,"v":89.5},{"s":"RAM Usage","t":814,"v":90.5},{"s":"RAM Usage","t":824,"v":91.5},{"s":"RAM Usage","t":834,"v":92.4},{"s":"RAM Usage","t":848,"v":93.5},{"s":"RAM Usage","t":862,"v":94.5},{"s":"RAM Usage","t":866,"v":93.6},{"s":"RAM Usage","t":883,"v":94.6},{"s":"RAM Usage","t":893,"v":95.6},{"s":"RAM Usage","t":903,"v":96.6},{"s":"RAM Usage","t":913,"v":97.6},{"s":"RAM Usage","t":925,"v":98.6},{"s":"RAM Usage","t":938,"v":99.5},{"s":"RAM Usage","t":948,"v":98.6},{"s":"RAM Usage","t":984,"v":98.6},{"s":"RAM Usage","t":986,"v":92.4}
]
},
"spacing":57,
"resolve":{"scale":{"color":"independent","x":"independent"},"legend":{"color":"independent"}},
"vconcat":[
{
"title":"LUCID-DDoS on cicddos_benign_1",
"width":961,"height":435,
"data":{"name":"top"},
"encoding":{
"x":{"field":"t","type":"quantitative","scale":{"domain":[0,607],"nice":false,"zero":false},"axis":{"values":[0,100,200,300,400,500,600],"title":null}},
"y":{"field":"v","type":"quantitative","scale":{"domain":[0,100],"nice":false},"axis":{"values":[0,20,40,60,80,100],"labelExpr":"datum.value + '%'","title":null}},
"color":{"field":"s","type":"nominal","scale":{"domain":["CPU Usage","RAM Usage"],"range":["#1f77b4","#ff7f0e"]},"legend":{"orient":"top-right","title":null}}
},
"layer":[
{"transform":[{"filter":"datum.s === 'CPU Usage'"}],"mark":{"type":"line","strokeWidth":3.4,"interpolate":"linear"}},
{"transform":[{"filter":"datum.s === 'RAM Usage'"}],"mark":{"type":"line","strokeWidth":3.4,"interpolate":"step-after"}}
]
},
{
"title":"LUCID-DDoS on swat_benign_1",
"width":961,"height":435,
"data":{"name":"bot"},
"encoding":{
"x":{"field":"t","type":"quantitative","scale":{"domain":[0,990],"nice":false,"zero":false},"axis":{"values":[0,200,400,600,800],"title":"Time (s)","titlePadding":8}},
"y":{"field":"v","type":"quantitative","scale":{"domain":[0,100],"nice":false},"axis":{"values":[0,20,40,60,80,100],"labelExpr":"datum.value + '%'","title":null}},
"color":{"field":"s","type":"nominal","scale":{"domain":["CPU Usage","RAM Usage"],"range":["#1f77b4","#ff7f0e"]},"legend":{"orient":"top-left","title":null}}
},
"layer":[
{"transform":[{"filter":"datum.s === 'CPU Usage'"}],"mark":{"type":"line","strokeWidth":3.4,"interpolate":"linear"}},
{"transform":[{"filter":"datum.s === 'RAM Usage'"}],"mark":{"type":"line","strokeWidth":3.4,"interpolate":"step-after"}}
]
}
]
}
